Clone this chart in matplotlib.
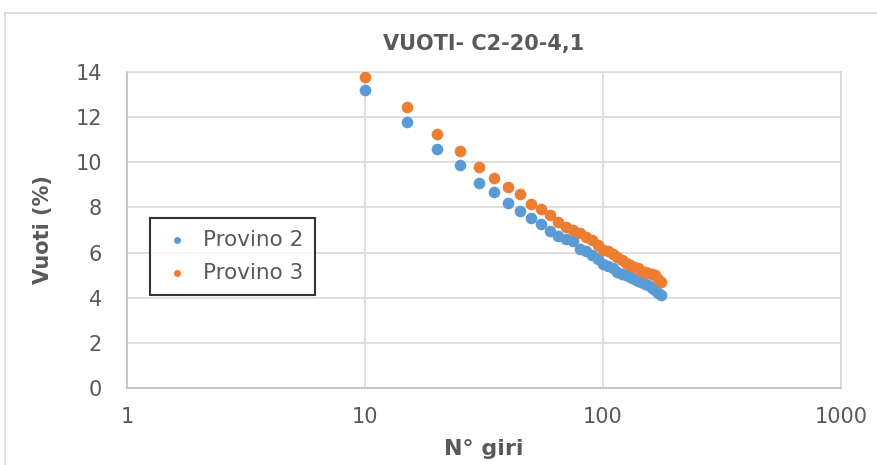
import matplotlib
matplotlib.use("Agg")
import matplotlib.pyplot as plt
from matplotlib.patches import Rectangle

# Data
giri = [10, 15, 20, 25, 30, 35, 40, 45, 50, 55, 60, 65, 70, 75, 80, 85, 90, 95,
        100, 105, 110, 115, 120, 125, 130, 135, 140, 145, 150, 155, 160, 165, 170, 175]
provino2 = [13.2, 11.8, 10.6, 9.9, 9.1, 8.7, 8.2, 7.85, 7.55, 7.25, 6.95, 6.75, 6.6, 6.5,
            6.15, 6.05, 5.9, 5.7, 5.5, 5.4, 5.3, 5.15, 5.05, 5.0, 4.9, 4.85, 4.75, 4.7,
            4.6, 4.55, 4.45, 4.35, 4.2, 4.1]
provino3 = [13.8, 12.45, 11.25, 10.5, 9.8, 9.3, 8.9, 8.6, 8.15, 7.95, 7.65, 7.35, 7.15, 7.0,
            6.85, 6.7, 6.55, 6.35, 6.1, 6.05, 5.95, 5.8, 5.65, 5.55, 5.45, 5.35, 5.3, 5.2,
            5.15, 5.1, 5.05, 5.0, 4.85, 4.7]
series_names = ["Provino 2", "Provino 3"]
colors = ["#5B9BD5", "#ED7D31"]
title = "VUOTI- C2-20-4,1"
xlabel = "N° giri"
ylabel = "Vuoti (%)"
yticks = [0, 2, 4, 6, 8, 10, 12, 14]
xticks = [1, 10, 100, 1000]
xticklabels = ["1", "10", "100", "1000"]

W, H = 878, 465
fig = plt.figure(figsize=(W / 100, H / 100), dpi=100)
fig.patch.set_facecolor("white")

# chart area border
fig.patches.append(Rectangle((5 / W, -0.1), 1.2, 1 - 13 / H + 0.1, transform=fig.transFigure,
                             fill=False, edgecolor="#D9D9D9", linewidth=1.2))

left, right, top, bottom = 127, 841, 72, 388
ax = fig.add_axes([left / W, (H - bottom) / H, (right - left) / W, (bottom - top) / H])

grid_c = "#D9D9D9"
txt_c = "#595959"

ax.scatter(giri, provino2, s=70, color=colors[0], label=series_names[0], zorder=3, linewidths=0)
ax.scatter(giri, provino3, s=70, color=colors[1], label=series_names[1], zorder=3, linewidths=0)

ax.set_xscale("log")
ax.set_xlim(1, 1000)
ax.set_ylim(0, 14)
ax.set_xticks(xticks)
ax.set_xticklabels(xticklabels)
ax.minorticks_off()
ax.set_yticks(yticks)
ax.grid(True, color=grid_c, linewidth=1.2)
ax.set_axisbelow(True)
for s in ["top", "right"]:
    ax.spines[s].set_color(grid_c)
    ax.spines[s].set_linewidth(1.2)
for s in ["left", "bottom"]:
    ax.spines[s].set_color("#BFBFBF")
    ax.spines[s].set_linewidth(1.2)
ax.tick_params(length=0, labelsize=15, labelcolor=txt_c)
ax.tick_params(axis="y", pad=18)
ax.tick_params(axis="x", pad=14)

ax.set_title(title, fontsize=15, fontweight="bold", color=txt_c, pad=16)
ax.set_xlabel(xlabel, fontsize=16, fontweight="bold", color=txt_c, labelpad=8)
ax.set_ylabel(ylabel, fontsize=15, fontweight="bold", color=txt_c, labelpad=16)

leg = ax.legend(loc="upper left", bbox_to_anchor=(150 / W, 1 - 218 / H), bbox_transform=fig.transFigure,
                frameon=True, fancybox=False, fontsize=15.5, markerscale=0.6, handletextpad=0.5,
                borderpad=0.55, labelspacing=0.6, handlelength=1.4, borderaxespad=0)
leg.get_frame().set_edgecolor("black")
leg.get_frame().set_linewidth(1.5)
for t in leg.get_texts():
    t.set_color(txt_c)

fig.savefig("out.png", dpi=100)
